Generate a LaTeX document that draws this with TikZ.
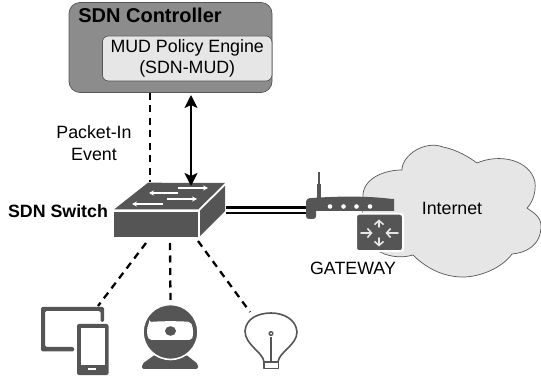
\documentclass[tikz,border=0pt]{standalone}
\usepackage{fontspec}
\setmainfont{Liberation Sans}
\usetikzlibrary{arrows.meta,calc}
\definecolor{icon}{HTML}{555555}
\definecolor{ctrl}{HTML}{8C8C8C}
\definecolor{pale}{HTML}{E6E6E6}
\tikzset{
  lbl/.style={inner sep=0pt,align=center,font=\fontsize{17.8}{22}\selectfont,text=black},
  blbl/.style={lbl,font=\fontsize{17.8}{22}\selectfont\bfseries},
  dashlink/.style={draw=black,line width=2.3pt,dash pattern=on 7pt off 5.5pt},
  biarrow/.style={draw=black,line width=2pt,{Stealth[length=13pt,width=13pt,inset=3pt]}-{Stealth[length=13pt,width=13pt,inset=3pt]}},
  wirer/.style={draw=white,line width=1.3pt,-{Stealth[length=5pt,width=5pt]}},
  wirel/.style={draw=white,line width=1.3pt,{Stealth[length=5pt,width=5pt]}-},
  rarrow/.style={draw=pale,line width=1.6pt,line cap=round,-{Straight Barb[length=4pt,width=9pt]}},
  bulbline/.style={draw=icon,line width=1.6pt,line join=round},
}
\begin{document}
\begin{tikzpicture}[x=1pt,y=-1pt]
\useasboundingbox (0,0) rectangle (541,379);
% controller
\node[draw=icon,fill=ctrl,line width=.7pt,rounded corners=11pt,minimum width=203pt,minimum height=90pt,inner sep=0pt] (ctrl) at (170.5,47.5) {};
\node[draw=icon,fill=pale,line width=.7pt,rounded corners=6pt,minimum width=169.5pt,minimum height=45pt,inner sep=0pt,align=center,font=\fontsize{17.8}{21.5}\selectfont] (eng) at (187.2,58.5) {MUD Policy Engine\\(SDN-MUD)};
\node[blbl,font=\fontsize{20}{22}\selectfont\bfseries] (ctitle) at (150,15) {SDN Controller};
% switch
\coordinate (swtop) at (150,182);
\coordinate (swarrow) at (191,186);
\coordinate (engarrow) at (191,95);
\coordinate (swbl) at (146,243);
\coordinate (swb) at (170,243);
\coordinate (swbr) at (198,241);
\coordinate (swr) at (226,210.5);
\coordinate (rtl) at (306,210.5);
\fill[icon] (114,209.5) -- (148,182.7) -- (225,183) -- (198,209.5) -- cycle;
\fill[icon] (114,211.7) rectangle (198,237.3);
\fill[icon] (200,210.5) -- (225,186) -- (225,211) -- (200,236) -- cycle;
\draw[wirer] (178,188) -- (208,188);
\draw[wirel] (149,193) -- (178,193);
\draw[wirer] (167,199) -- (197,199);
\draw[wirel] (132,204) -- (163,204);
% links
\draw[dashlink] (ctrl.south -| swtop) -- (swtop);
\draw[biarrow] (engarrow) -- (swarrow);
\draw[black,line width=2.4pt] ($(swr)+(0,-3)$) -- ($(rtl)+(0,-3)$);
\draw[black,line width=2pt] ($(swr)+(0,3)$) -- ($(rtl)+(0,3)$);
% cloud
\path[fill=pale,draw=icon,line width=.7pt]
 (363,197) .. controls (362,180) and (382,170) .. (402,170) .. controls (402,155) and (425,140) .. (443,147)
 .. controls (458,150) and (470,158) .. (477,163) .. controls (500,153) and (530,160) .. (535,182)
 .. controls (536,192) and (533,202) .. (527,208) .. controls (534,213) and (541,217) .. (541,226)
 .. controls (541,246) and (525,253) .. (512,254) .. controls (502,268) and (480,277) .. (463,277)
 .. controls (442,277) and (425,267) .. (413,255) .. controls (400,259) and (385,256) .. (377,250)
 .. controls (365,240) and (360,215) .. (363,197) -- cycle;
\node[lbl] (inet) at (452,208) {Internet};
% router
\fill[icon] (318,172) rectangle (320,185);
\fill[icon] (317,184) rectangle (321,198);
\fill[icon] (306,203) .. controls (306,199) and (308,198) .. (312,198) .. controls (340,196) and (370,196) .. (392,199)
 -- (394,199) -- (394,211) -- (316,211) -- (316,216) .. controls (316,218) and (315,219) .. (313,219)
 -- (309,219) .. controls (307,219) and (306,218) .. (306,216) -- cycle;
\foreach \x in {330,343.5,356.5,370} \fill[white] (\x,206.5) circle (2.3pt);
% gateway
\node[draw=white,line width=2pt,fill=icon,rounded corners=3pt,minimum width=47pt,minimum height=37.5pt,inner sep=0pt] (gw) at (379.5,232.5) {};
\draw[rarrow] (379,227) -- (379,219.5);
\draw[rarrow] (379,238) -- (379,246.5);
\draw[rarrow] (361,233) -- (372.5,233);
\draw[rarrow] (398,233) -- (385.5,233);
\node[lbl] (gwl) at (353,268) {GATEWAY};
% labels
\node[lbl] (pin) at (94,143) {Packet-In\\Event};
\node[blbl] (swl) at (58,211) {SDN Switch};
% tablet and phone
\fill[icon,rounded corners=1.5pt] (41,307) -- (104,307) -- (104,322) -- (100.5,322) -- (100.5,311) -- (45,311) -- (45,347) -- (74,347) -- (74,351.5) -- (41,351.5) -- cycle;
\fill[icon,rounded corners=2pt] (77,324) rectangle (108.5,375);
\fill[white] (80.5,328) rectangle (104.5,365.5);
\fill[white] (88,368) rectangle (96,370);
\coordinate (tablettop) at (98,306);
% camera
\fill[icon,rounded corners=2pt] (142,369) -- (142,364) -- (156,354) -- (185,354) -- (198,364) -- (198,369) -- cycle;
\node[circle,draw=white,line width=1.6pt,fill=icon,minimum size=55pt,inner sep=0pt] (cam) at (170.5,332) {};
\fill[white,rounded corners=2pt] (149.5,322) .. controls (162,321) and (180,321) .. (190.5,322) .. controls (193.5,328) and (193.5,335) .. (191.5,340) -- (149.5,340) .. controls (146.5,335) and (146.5,328) .. (149.5,322) -- cycle;
\fill[icon] (170.5,331) ellipse (5.5pt and 4.8pt);
% bulb
\coordinate (bulbtop) at (250,312);
\draw[bulbline] (264,362) .. controls (263,352) and (245,345) .. (245,331)
 .. controls (246,318) and (259,313) .. (271,313) .. controls (283,313) and (296,319) .. (297,332)
 .. controls (297,345) and (279,352) .. (278,362);
\draw[bulbline] (264,362) rectangle (278.5,368.5) (271,337) -- (271,362);
\fill[icon] (271,333.5) circle (2.6pt);
\fill[white] (271,333.5) circle (1pt);
% device links
\draw[dashlink] (swbl) -- (tablettop);
\draw[dashlink] (swb) -- (cam.north);
\draw[dashlink] (swbr) -- (bulbtop);
\end{tikzpicture}
\end{document}
